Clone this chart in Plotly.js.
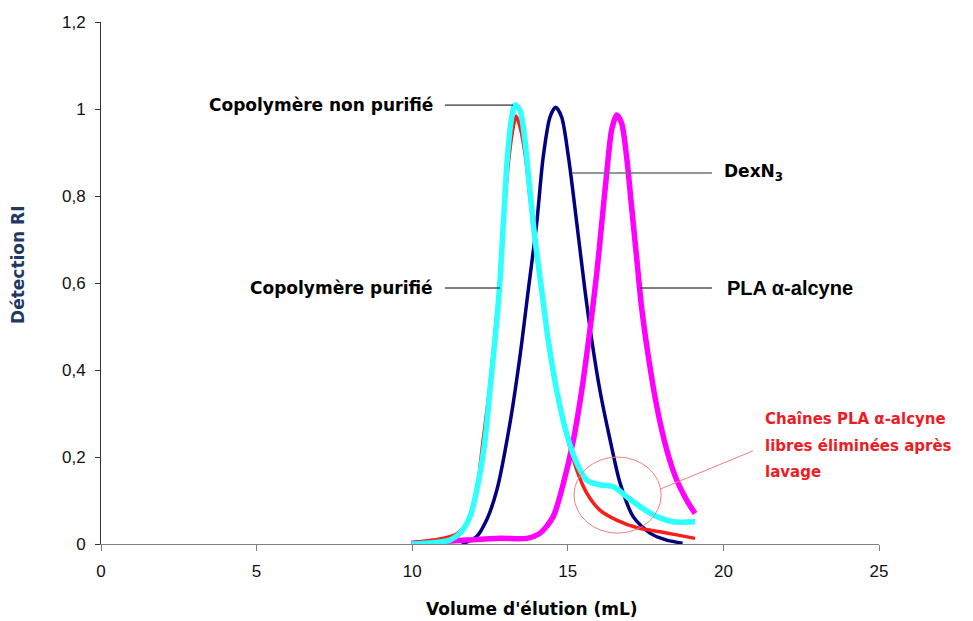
<!DOCTYPE html>
<html>
<head>
<meta charset="utf-8">
<script src="https://cdn.plot.ly/plotly-3.0.1.min.js"></script>
<style>html,body{margin:0;padding:0;background:#fff;}#chart{width:973px;height:621px;}</style>
</head>
<body>
<div id="chart"></div>
<script>
// DexN3 (navy)
const dexX = [11.59, 12.07, 12.39, 12.72, 13.14, 13.46, 13.73, 14.0, 14.21, 14.43, 14.61, 14.80, 15.02, 15.29, 15.55, 15.77, 16.03, 16.36, 16.68, 17.1, 17.64, 18.18, 18.69];
const dexY = [0.0, 0.017, 0.055, 0.124, 0.277, 0.43, 0.584, 0.737, 0.89, 0.982, 1.004, 0.982, 0.89, 0.737, 0.584, 0.469, 0.354, 0.239, 0.14, 0.063, 0.025, 0.009, 0.002];

// PLA alpha-alcyne (magenta)
const plaX = [9.98, 10.68, 11.75, 12.82, 13.68, 14.11, 14.53, 14.86, 15.18, 15.45, 15.71, 15.93, 16.09, 16.25, 16.41, 16.57, 16.73, 16.89, 17.05, 17.21, 17.37, 17.59, 17.86, 18.18, 18.5, 18.82, 19.09];
const plaY = [0.002, 0.005, 0.009, 0.013, 0.013, 0.025, 0.063, 0.14, 0.239, 0.354, 0.492, 0.622, 0.737, 0.852, 0.952, 0.986, 0.967, 0.89, 0.775, 0.66, 0.545, 0.43, 0.316, 0.216, 0.147, 0.101, 0.07];

// Copolymère purifié (red)
const purX = [9.98, 10.68, 11.38, 11.75, 12.07, 12.28, 12.48, 12.64, 12.79, 12.93, 13.09, 13.23, 13.34, 13.46, 13.62, 13.78, 13.95, 14.16, 14.37, 14.64, 14.96, 15.29, 15.61, 16.03, 16.57, 17.21, 17.96, 18.5, 19.09];
const purY = [0.002, 0.009, 0.021, 0.048, 0.124, 0.239, 0.354, 0.469, 0.584, 0.737, 0.875, 0.952, 0.984, 0.96, 0.90, 0.80, 0.69, 0.58, 0.465, 0.352, 0.251, 0.17, 0.117, 0.078, 0.055, 0.038, 0.028, 0.021, 0.013];

// Copolymère non purifié (cyan)
const nonX = [9.98, 10.68, 11.21, 11.54, 11.86, 12.12, 12.34, 12.5, 12.66, 12.8, 12.93, 13.06, 13.2, 13.3, 13.46, 13.62, 13.78, 13.95, 14.16, 14.37, 14.64, 14.96, 15.29, 15.61, 16.03, 16.46, 16.89, 17.32, 17.86, 18.39, 19.09];
const nonY = [0.0, 0.003, 0.009, 0.025, 0.063, 0.14, 0.239, 0.354, 0.469, 0.584, 0.737, 0.89, 0.982, 1.009, 0.998, 0.929, 0.814, 0.699, 0.584, 0.469, 0.354, 0.254, 0.186, 0.147, 0.136, 0.132, 0.109, 0.086, 0.063, 0.051, 0.051];

const xTicks = [0, 5, 10, 15, 20, 25];
const yTicks = [0, 0.2, 0.4, 0.6, 0.8, 1, 1.2];

const tahoma = 'DejaVu Sans, Verdana, sans-serif';
const arial = 'Liberation Sans, Arial, sans-serif';
const lineSpec = (c, w) => ({color: c, width: w, shape: 'spline', smoothing: 0.8});

const traces = [
  {x: dexX, y: dexY, mode: 'lines', line: lineSpec('#000080', 3.5), name: 'DexN3'},
  {x: plaX, y: plaY, mode: 'lines', line: lineSpec('#FF00FF', 5.5), name: 'PLA'},
  {x: purX, y: purY, mode: 'lines', line: lineSpec('#F5201A', 3.5), name: 'purifié'},
  {x: nonX, y: nonY, mode: 'lines', line: lineSpec('#2EFFFF', 5.5), name: 'non purifié'}
];

const blackFont = {family: tahoma, size: 17, color: '#000'};
const redFont = {family: tahoma, size: 15, color: '#ED1C24'};

const layout = {
  width: 973, height: 621,
  margin: {l: 101, r: 94, t: 22, b: 77},
  paper_bgcolor: '#fff', plot_bgcolor: '#fff',
  showlegend: false,
  separators: ', ',
  xaxis: {
    range: [0, 25], tickvals: xTicks, showgrid: false, zeroline: false,
    showline: true, linecolor: '#808080', linewidth: 1,
    ticks: 'outside', ticklen: 6, tickcolor: '#808080',
    tickfont: {family: arial, size: 17, color: '#111'},
    ticklabelstandoff: 6
  },
  yaxis: {
    range: [0, 1.2], tickvals: yTicks, showgrid: false, zeroline: false,
    showline: true, linecolor: '#333', linewidth: 1,
    ticks: 'outside', ticklen: 5, tickcolor: '#333',
    tickfont: {family: arial, size: 17, color: '#111'},
    ticklabelstandoff: 6
  },
  shapes: [
    {type: 'line', xref: 'x', yref: 'y', x0: 11.05, x1: 13.24, y0: 1.009, y1: 1.009, line: {color: '#000', width: 1}},
    {type: 'line', xref: 'x', yref: 'y', x0: 11.05, x1: 12.82, y0: 0.5885, y1: 0.5885, line: {color: '#000', width: 1}},
    {type: 'line', xref: 'x', yref: 'y', x0: 15.13, x1: 19.63, y0: 0.853, y1: 0.853, line: {color: '#707070', width: 1.5}},
    {type: 'line', xref: 'x', yref: 'y', x0: 17.32, x1: 19.63, y0: 0.5885, y1: 0.5885, line: {color: '#000', width: 1}},
    {type: 'circle', xref: 'x', yref: 'y', x0: 15.2, x1: 18.0, y0: 0.025, y1: 0.2, line: {color: '#F08080', width: 1}},
    {type: 'line', xref: 'x', yref: 'y', x0: 17.96, x1: 20.95, y0: 0.126, y1: 0.214, line: {color: '#F08080', width: 1}}
  ],
  annotations: [
    {xref: 'x', yref: 'y', x: 10.73, y: 1.009, xanchor: 'right', yanchor: 'middle', showarrow: false, text: '<b>Copolymère non purifié</b>', font: blackFont},
    {xref: 'x', yref: 'y', x: 10.73, y: 0.5885, xanchor: 'right', yanchor: 'middle', showarrow: false, text: '<b>Copolymère purifié</b>', font: blackFont},
    {xref: 'x', yref: 'y', x: 19.95, y: 0.853, xanchor: 'left', yanchor: 'middle', showarrow: false, text: '<b>DexN<sub>3</sub></b>', font: blackFont},
    {xref: 'x', yref: 'y', x: 20.05, y: 0.5885, xanchor: 'left', yanchor: 'middle', showarrow: false, text: '<b>PLA α-alcyne</b>', font: {family: arial, size: 20, color: '#000'}},
    {xref: 'x', yref: 'y', x: 21.27, y: 0.287, xanchor: 'left', yanchor: 'middle', showarrow: false, text: '<b>Chaînes PLA α-alcyne</b>', font: redFont},
    {xref: 'x', yref: 'y', x: 21.27, y: 0.225, xanchor: 'left', yanchor: 'middle', showarrow: false, text: '<b>libres éliminées après</b>', font: redFont},
    {xref: 'x', yref: 'y', x: 21.27, y: 0.1655, xanchor: 'left', yanchor: 'middle', showarrow: false, text: '<b>lavage</b>', font: redFont},
    {xref: 'paper', yref: 'paper', x: 0.554, y: -0.1245, xanchor: 'center', yanchor: 'middle', showarrow: false, text: "<b>Volume d'élution (mL)</b>", font: {family: tahoma, size: 17, color: '#000'}},
    {xref: 'paper', yref: 'paper', x: -0.1067, y: 0.5345, xanchor: 'center', yanchor: 'middle', showarrow: false, textangle: -90, text: '<b>Détection RI</b>', font: {family: tahoma, size: 17, color: '#1F3864'}}
  ]
};

Plotly.newPlot('chart', traces, layout, {staticPlot: true, displayModeBar: false});
</script>
</body>
</html>
